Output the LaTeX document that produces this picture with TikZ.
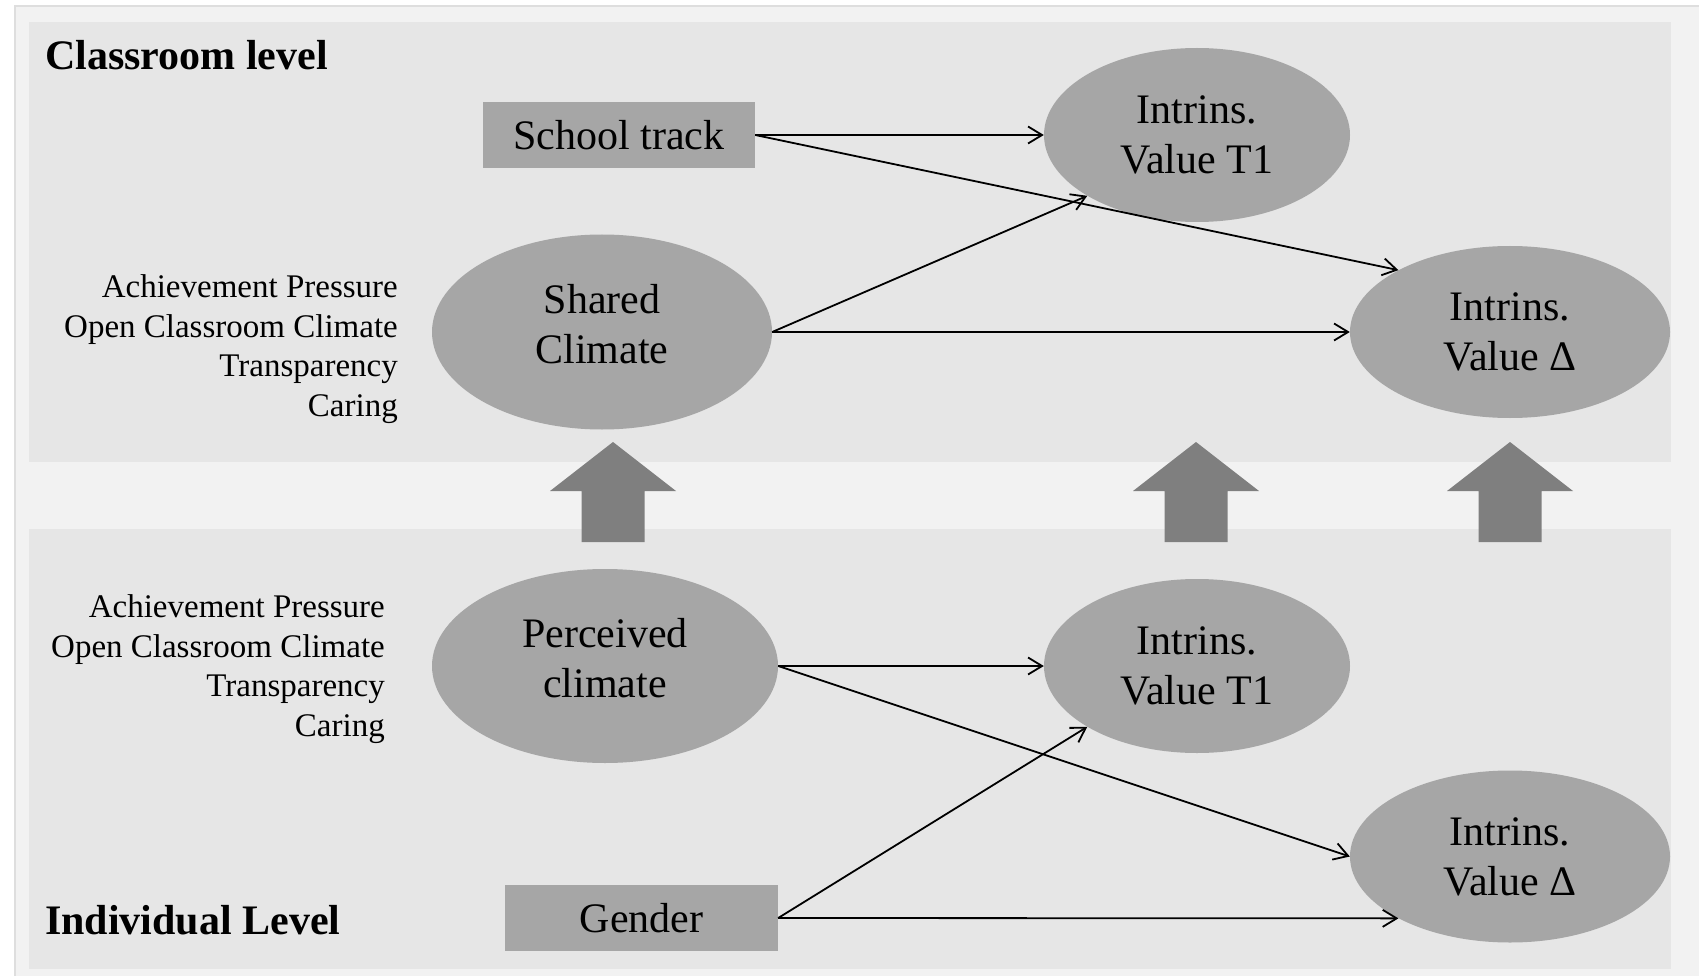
\documentclass[tikz,border=0pt]{standalone}
\usepackage{fontspec}
\setmainfont{LiberationSerif}[
  Extension=.ttf,
  UprightFont=*-Regular,
  BoldFont=*-Bold,
  ItalicFont=*-Italic,
  BoldItalicFont=*-BoldItalic]
\usetikzlibrary{arrows.meta,shapes.geometric}

\definecolor{outerbg}{HTML}{F2F2F2}
\definecolor{panelbg}{HTML}{E6E6E6}
\definecolor{rimline}{HTML}{DEDEDE}
\definecolor{varfill}{HTML}{A6A6A6}
\definecolor{liftfill}{HTML}{7F7F7F}

\tikzset{
  latent/.style={ellipse, fill=varfill, inner sep=0pt, align=center,
    font=\fontsize{42}{50}\selectfont},
  latenttext/.style={inner sep=0pt, align=center, font=\fontsize{42}{50}\selectfont},
  manifest/.style={rectangle, fill=varfill, inner sep=0pt, align=center,
    minimum height=66pt, font=\fontsize{42}{50}\selectfont},
  levellabel/.style={anchor=west, inner sep=0pt, font=\bfseries\fontsize{42}{50}\selectfont},
  facets/.style={anchor=east, inner sep=0pt, align=right,
    font=\fontsize{33}{39.7}\selectfont},
  path/.style={-{Straight Barb[length=14pt,width=17pt]}, line width=1.8pt}
}

\begin{document}
\begin{tikzpicture}[x=1pt,y=-1pt]

  \useasboundingbox (0,0) rectangle (1699,976);

  %%%%%%%%%%%%%%%%%%%%%%%%%%%%%%%%%%%%%%%%%%%%%%%%%%%%%%%%%%%%%%%%%%%%%%%%%%%%%
  %% Background panels
  %%%%%%%%%%%%%%%%%%%%%%%%%%%%%%%%%%%%%%%%%%%%%%%%%%%%%%%%%%%%%%%%%%%%%%%%%%%%%

  \fill [white] (0,0) rectangle (1699,976);
  \fill [outerbg] (15,6) rectangle (1699,976);
  \draw [rimline, line width=1.5pt] (15,976) -- (15,6) -- (1699,6);

  % Classroom level and individual level
  \fill [panelbg] (29,22)  rectangle (1671,462);
  \fill [panelbg] (29,529) rectangle (1671,969);

  % The block arrows between the two levels
  \foreach \x in {613,1196,1510}
    \fill [liftfill] (\x,442) -- (\x+63,491) -- (\x+31.5,491) -- (\x+31.5,542)
      -- (\x-31.5,542) -- (\x-31.5,491) -- (\x-63,491) -- cycle;

  %%%%%%%%%%%%%%%%%%%%%%%%%%%%%%%%%%%%%%%%%%%%%%%%%%%%%%%%%%%%%%%%%%%%%%%%%%%%%
  %% Classroom level
  %%%%%%%%%%%%%%%%%%%%%%%%%%%%%%%%%%%%%%%%%%%%%%%%%%%%%%%%%%%%%%%%%%%%%%%%%%%%%

  \node [levellabel] (classlabel) at (45,55) {Classroom level};

  \node [manifest, minimum width=272pt] (track) at (619,135) {School track};
  \node [latent, minimum width=340pt, minimum height=195pt] (shared) at (602,332) {};
  \node [latenttext] (sharedtext) at ([yshift=8pt]shared.center) {Shared\\Climate};
  \node [latent, minimum width=306pt, minimum height=174pt] (valueA) at (1197,135) {Intrins.\\Value T1};
  \node [latent, minimum width=320pt, minimum height=172pt] (deltaA) at (1510,332) {Intrins.\\Value Δ};

  \node [facets] (facetsA) at (398,349)
    {Achievement Pressure\\Open Classroom Climate\\Transparency\\Caring};

  % Paths
  \draw [path] (track.east)  -- (valueA.west);
  \draw [path] (track.east)  -- (deltaA.151);
  \draw [path] (shared.east) -- (valueA.209);
  \draw [path] (shared.east) -- (deltaA.west);

  %%%%%%%%%%%%%%%%%%%%%%%%%%%%%%%%%%%%%%%%%%%%%%%%%%%%%%%%%%%%%%%%%%%%%%%%%%%%%
  %% Individual level
  %%%%%%%%%%%%%%%%%%%%%%%%%%%%%%%%%%%%%%%%%%%%%%%%%%%%%%%%%%%%%%%%%%%%%%%%%%%%%

  \node [levellabel] (indivlabel) at (45,920) {Individual Level};

  \node [latent, minimum width=346pt, minimum height=194pt] (perceived) at (605,666) {};
  \node [latenttext] (perceivedtext) at ([yshift=8pt]perceived.center) {Perceived\\climate};
  \node [manifest, minimum width=273pt] (gender) at (641.5,918) {Gender};
  \node [latent, minimum width=306pt, minimum height=174pt] (valueB) at (1197,666) {Intrins.\\Value T1};
  \node [latent, minimum width=320pt, minimum height=172pt] (deltaB) at (1510,856.5) {Intrins.\\Value Δ};

  \node [facets] (facetsB) at (385,669)
    {Achievement Pressure\\Open Classroom Climate\\Transparency\\Caring};

  % Paths
  \draw [path] (perceived.east) -- (valueB.west);
  \draw [path] (perceived.east) -- (deltaB.west);
  \draw [path] (gender.east)    -- (valueB.209);
  \draw [path] (gender.east)    -- (deltaB.209);

\end{tikzpicture}
\end{document}
